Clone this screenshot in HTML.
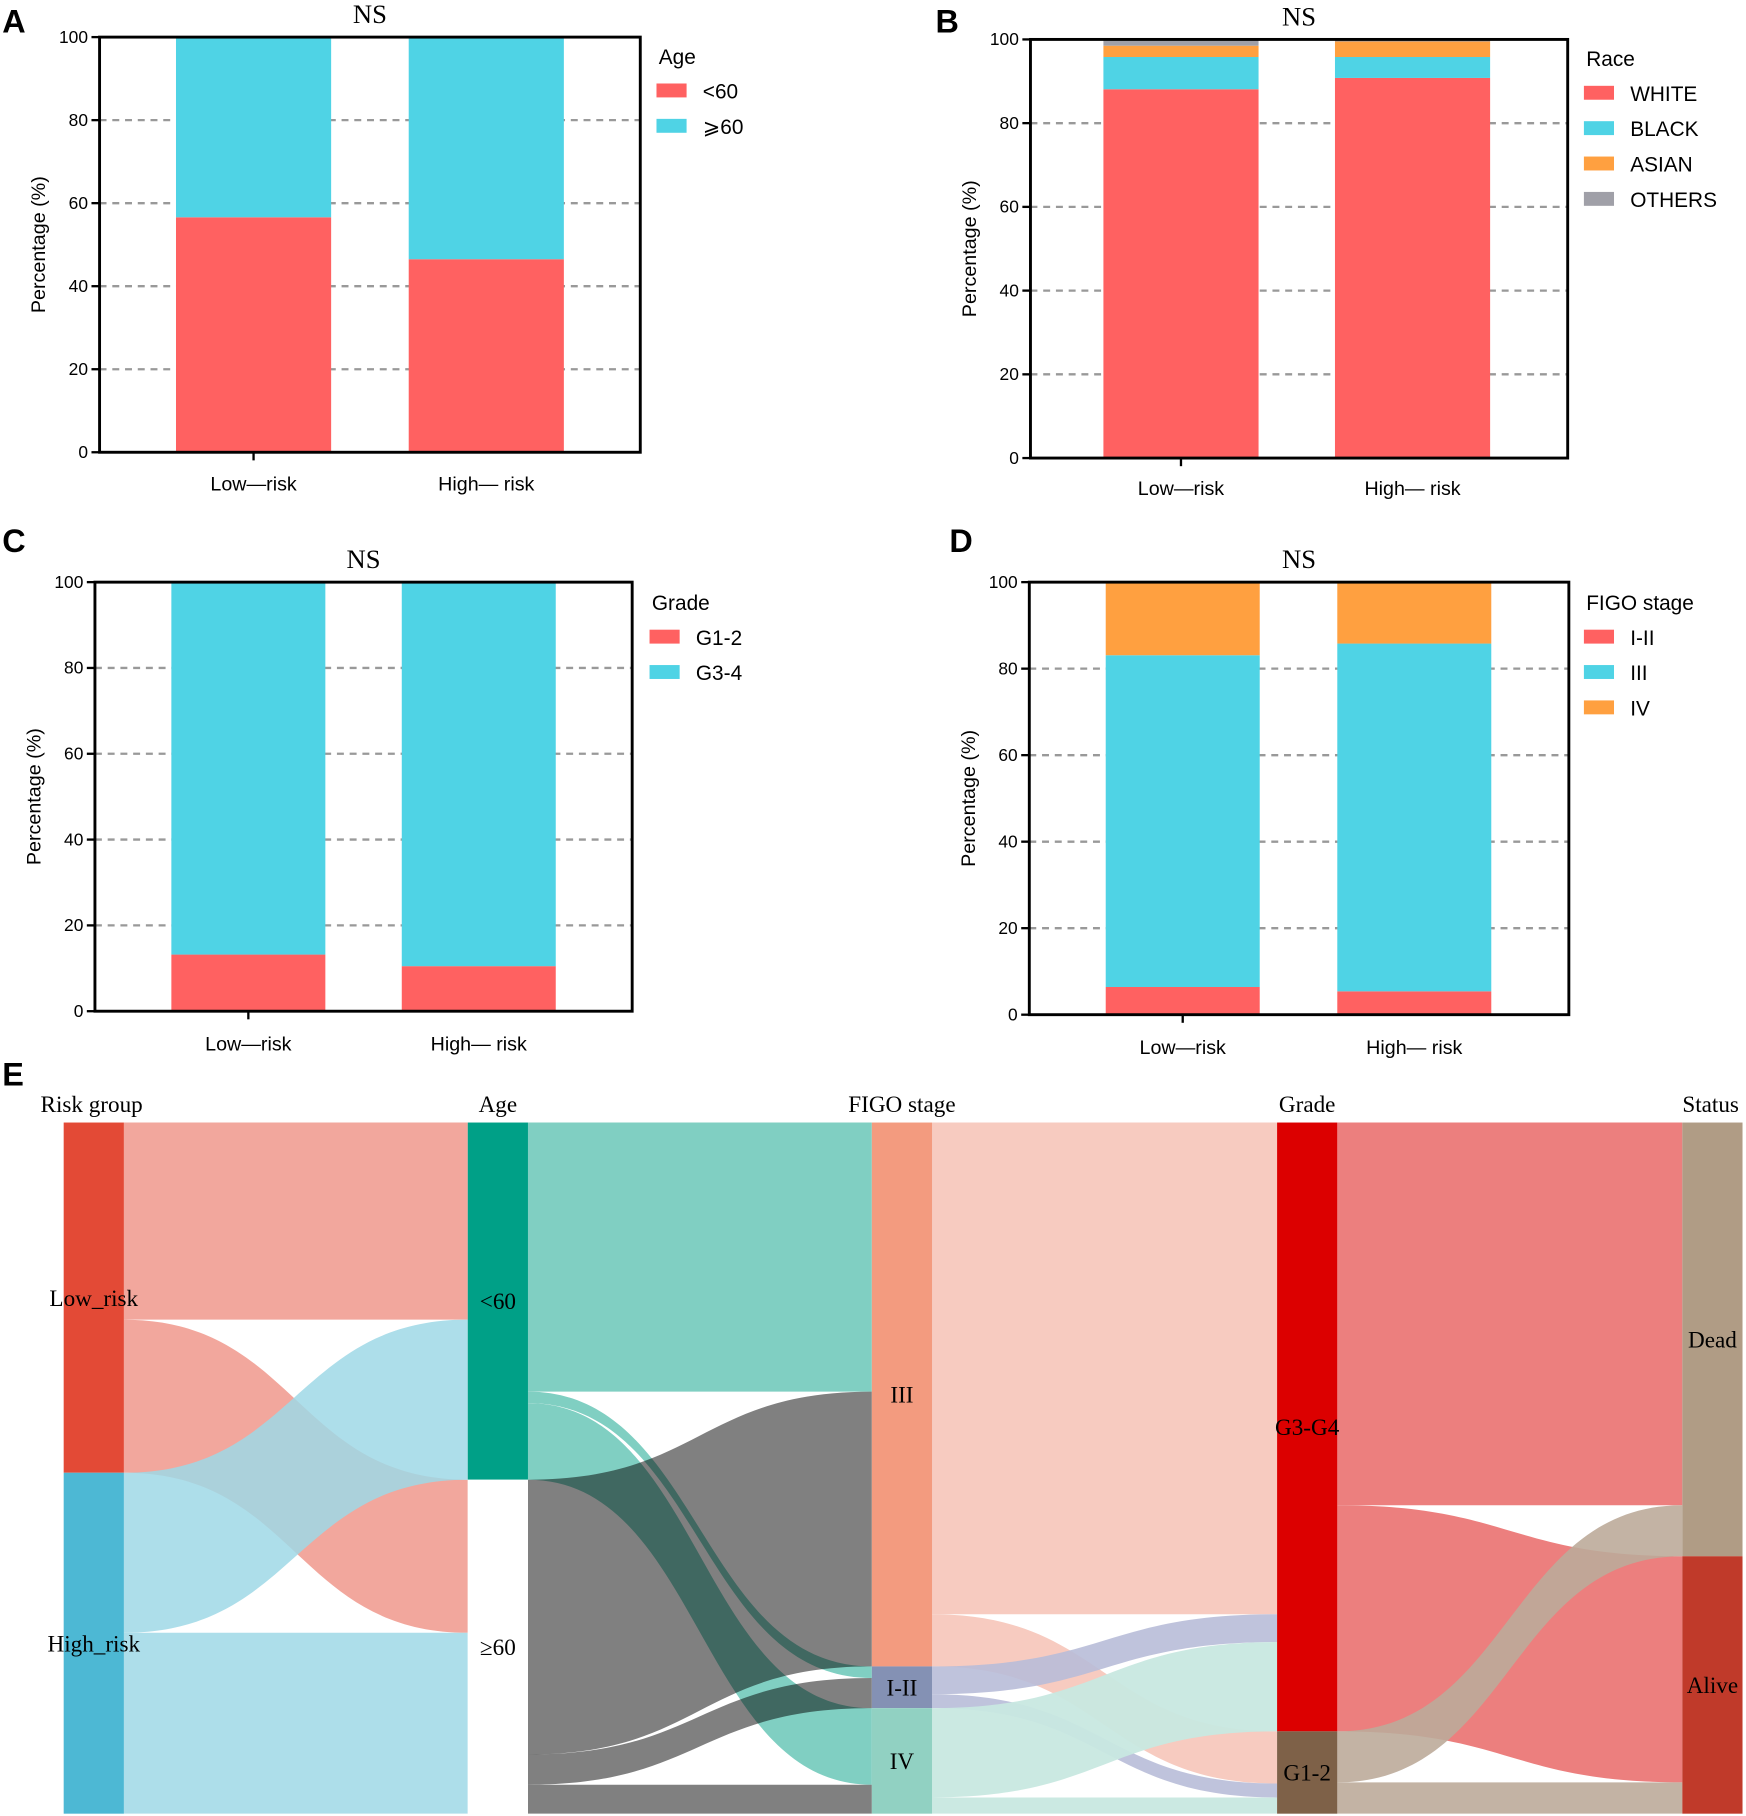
<!DOCTYPE html>
<html><head><meta charset="utf-8"><style>
html,body{margin:0;padding:0;background:#fff}
svg{display:block}
.sans{font-family:"Liberation Sans",sans-serif}
.serif{font-family:"Liberation Serif",serif}
</style></head><body>
<svg id="fig" width="1746" height="1816" viewBox="0 0 1508 1566" preserveAspectRatio="none" xmlns="http://www.w3.org/2000/svg">
<g id="panels"></g>
<g id="sankey"></g>
</svg>
<script>
// ---- bar chart data ----
const barCategories = ["Low\u2014risk", "High\u2014 risk"];
const yTicks = [0, 20, 40, 60, 80, 100];
const ageLabels = ["<60", "\u2a7e60"];
const ageLow = [56.6, 43.4];
const ageHigh = [46.5, 53.5];
const raceLabels = ["WHITE", "BLACK", "ASIAN", "OTHERS"];
const raceLow = [88.1, 7.7, 2.7, 1.5];
const raceHigh = [90.8, 5.0, 3.7, 0.5];
const gradeLabels = ["G1-2", "G3-4"];
const gradeLow = [13.2, 86.8];
const gradeHigh = [10.5, 89.5];
const figoLabels = ["I-II", "III", "IV"];
const figoLow = [6.4, 76.7, 16.9];
const figoHigh = [5.4, 80.4, 14.2];

// ---- sankey data ----
const sankeyColumns = ["Risk group", "Age", "FIGO stage", "Grade", "Status"];
const riskNodes = ["Low_risk", "High_risk"];
const ageNodes = ["<60", "\u226560"];
const figoNodes = ["III", "I-II", "IV"];
const gradeNodes = ["G3-G4", "G1-2"];
const statusNodes = ["Dead", "Alive"];
const riskToAge = [[170, 132], [138, 156]];
const ageToFigo = [[232, 10, 66], [237, 26, 25]];
const figoToGrade = [[424, 45], [24, 12], [77, 14]];
const gradeToStatus = [[330, 195], [44, 27]];

const NS = "http://www.w3.org/2000/svg";
function mk(tag, attrs, parent) {
  const e = document.createElementNS(NS, tag);
  for (const k in attrs) e.setAttribute(k, attrs[k]);
  if (parent) parent.appendChild(e);
  return e;
}
const panels = document.getElementById("panels");
const RED = "#ff6161", CYAN = "#4fd3e5", ORANGE = "#ffa040", GRAY = "#a0a0a8";

function barChart(cfg) {
  const g = mk("g", {}, panels);
  
  
  const {L, R, T, B} = cfg;
  const y = v => B - (B - T) * v / 100;
  yTicks.forEach(t => {
    if (t > 0 && t < 100) {
      const gl = mk("line", {x1: L, x2: R, y1: y(t), y2: y(t), stroke: "#999", "stroke-width": 2, "stroke-dasharray": "6,5"}, g);
      
      
    }
  });
  const series = [cfg.low, cfg.high];
  series.forEach((vals, i) => {
    let acc = 0;
    const x0 = cfg.bars[i];
    vals.forEach((v, j) => {
      const r = mk("rect", {x: x0, y: y(acc + v), width: cfg.bw, height: y(acc) - y(acc + v), fill: cfg.colors[j]}, g);
      
      
      acc += v;
    });
    const xl = mk("text", {x: x0 + cfg.bw / 2, y: cfg.xly, "text-anchor": "middle", "font-size": 17, class: "sans"}, g);
    xl.textContent = barCategories[i];
    
    
  });
  const fr = mk("rect", {x: L, y: T, width: R - L, height: B - T, fill: "none", stroke: "#000", "stroke-width": 2.5}, g);
  
  
  yTicks.forEach(t => {
    mk("line", {x1: L - 7, x2: L, y1: y(t), y2: y(t), stroke: "#000", "stroke-width": 2}, g);
    const tl = mk("text", {x: L - 10, y: y(t) + 5, "text-anchor": "end", "font-size": 15, class: "sans"}, g);
    tl.textContent = t;
    
    
  });
  mk("line", {x1: cfg.bars[0] + cfg.bw / 2, x2: cfg.bars[0] + cfg.bw / 2, y1: B, y2: B + 7, stroke: "#000", "stroke-width": 2}, g);
  const yt = mk("text", {x: 0, y: 0, transform: `translate(${L - 47},${(T + B) / 2}) rotate(-90)`, "text-anchor": "middle", "font-size": 17, class: "sans"}, g);
  yt.textContent = "Percentage (%)";
  
  
  const ns = mk("text", {x: (L + R) / 2, y: T - 12, "text-anchor": "middle", "font-size": 23, class: "serif"}, g);
  ns.textContent = "NS";
  
  
  const lt = mk("text", {x: cfg.legX + 2, y: cfg.legY, "font-size": 18, class: "sans"}, g);
  lt.textContent = cfg.legTitle;
  
  
  cfg.labels.forEach((lab, j) => {
    const yy = cfg.legY + 23 + j * 30.5;
    const sw = mk("rect", {x: cfg.legX, y: yy - 6, width: 26, height: 12, fill: cfg.colors[j]}, g);
    
    
    const tx = mk("text", {x: cfg.legX + 40, y: yy + 7, "font-size": 18, class: "sans"}, g);
    tx.textContent = lab;
    
    
  });
  const pl = mk("text", {x: cfg.letter[0], y: cfg.letter[1], "font-size": 28, "font-weight": "bold", class: "sans"}, g);
  pl.textContent = cfg.letterText;
  
  
}

barChart({name: "age-chart", L: 86, R: 553, T: 32, B: 390, bars: [152, 353], bw: 134, xly: 423, low: ageLow, high: ageHigh, colors: [RED, CYAN], labels: ageLabels, legTitle: "Age", legX: 567, legY: 55, letter: [2, 28], letterText: "A"});
barChart({name: "race-chart", L: 890, R: 1354, T: 34, B: 395, bars: [953, 1153], bw: 134, xly: 427, low: raceLow, high: raceHigh, colors: [RED, CYAN, ORANGE, GRAY], labels: raceLabels, legTitle: "Race", legX: 1368, legY: 57, letter: [808, 28], letterText: "B"});
barChart({name: "grade-chart", L: 82, R: 546, T: 502, B: 872, bars: [148, 347], bw: 133, xly: 906, low: gradeLow, high: gradeHigh, colors: [RED, CYAN], labels: gradeLabels, legTitle: "Grade", legX: 561, legY: 526, letter: [2, 476], letterText: "C"});
barChart({name: "figo-chart", L: 889, R: 1355, T: 502, B: 875, bars: [955, 1155], bw: 133, xly: 909, low: figoLow, high: figoHigh, colors: [RED, CYAN, ORANGE], labels: figoLabels, legTitle: "FIGO stage", legX: 1368, legY: 526, letter: [820, 476], letterText: "D"});

// ---- sankey ----
const sk = document.getElementById("sankey");
const colX = [55, 404, 753, 1103, 1453];
const nodeW = 52;
const TOP = 968, TOTAL_PX = 596;
const grandTotal = riskToAge.flat().reduce((a, b) => a + b, 0);
const sc = v => v * TOTAL_PX / grandTotal;
const columnsNodes = [riskNodes, ageNodes, figoNodes, gradeNodes, statusNodes];
const links = [riskToAge, ageToFigo, figoToGrade, gradeToStatus];
const nodeColors = [["#e34a36", "#4db8d4"], ["#00a087", "#ffffff"], ["#f39b7f", "#8491b4", "#91d1c2"], ["#dc0000", "#7e6148"], ["#b09c85", "#c03a2a"]];
const flowColors = [["#f1a298", "#9fd8e6"], ["#80cfc2", "#808080"], ["#f7cbc0", "#b8bcd8", "#c8e8e0"], ["#ec7f7e", "#bcab9a"]];
const flowOpacity = [[0.95, 0.85], [1, 1], [1, 0.9, 0.95], [1, 0.9]];
const flowBlend = [["normal", "normal"], ["normal", "multiply"], ["normal", "normal", "normal"], ["normal", "normal"]];

const nodeSizes = columnsNodes.map((nodes, c) => {
  if (c === 0) return riskToAge.map(r => r.reduce((a, b) => a + b, 0));
  const m = links[c - 1];
  return nodes.map((_, j) => m.reduce((a, r) => a + r[j], 0));
});
const nodeY = nodeSizes.map(sizes => { let acc = TOP; return sizes.map(s => { const y = acc; acc += sc(s); return y; }); });

const flowG = mk("g", {}, sk);
links.forEach((m, c) => {
  const outOff = nodeY[c].slice();
  const inOff = nodeY[c + 1].slice();
  const inPos = m.map(() => []);
  for (let j = 0; j < m[0].length; j++) {
    for (let i = 0; i < m.length; i++) { inPos[i][j] = inOff[j]; inOff[j] += sc(m[i][j]); }
  }
  m.forEach((row, i) => {
    row.forEach((v, j) => {
      const h = sc(v);
      const y0 = outOff[i]; outOff[i] += h;
      const y1 = inPos[i][j];
      const x0 = colX[c] + nodeW, x1 = colX[c + 1], xm = (x0 + x1) / 2;
      const d = `M${x0},${y0} C${xm},${y0} ${xm},${y1} ${x1},${y1} L${x1},${y1 + h} C${xm},${y1 + h} ${xm},${y0 + h} ${x0},${y0 + h} Z`;
      const p = mk("path", {d, fill: flowColors[c][i], "fill-opacity": flowOpacity[c][i], style: `mix-blend-mode:${flowBlend[c][i]}`}, flowG);
      
      
    });
  });
});
columnsNodes.forEach((nodes, c) => {
  nodes.forEach((n, j) => {
    const h = sc(nodeSizes[c][j]);
    const r = mk("rect", {x: colX[c], y: nodeY[c][j], width: nodeW, height: h, fill: nodeColors[c][j]}, sk);
    
    
    const t = mk("text", {x: colX[c] + nodeW / 2, y: nodeY[c][j] + h / 2 + 7, "text-anchor": "middle", "font-size": 20, class: "serif"}, sk);
    t.textContent = n;
    
    
  });
  const anchor = c === 0 ? "start" : (c === 4 ? "start" : "middle");
  const hx = c === 0 ? 35 : (c === 4 ? 1453 : colX[c] + nodeW / 2);
  const ht = mk("text", {x: hx, y: 959, "text-anchor": anchor, "font-size": 20, class: "serif"}, sk);
  ht.textContent = sankeyColumns[c];
  
  
});
const eL = mk("text", {x: 2, y: 936, "font-size": 28, "font-weight": "bold", class: "sans"}, sk);
eL.textContent = "E";


</script>
</body></html>
